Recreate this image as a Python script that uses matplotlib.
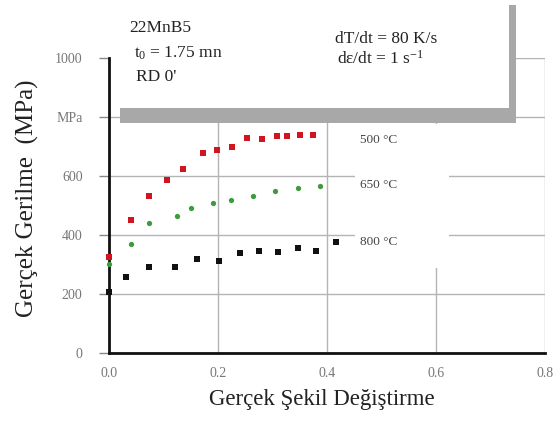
import matplotlib
matplotlib.use("Agg")
import matplotlib.pyplot as plt
from matplotlib.patches import Rectangle

plt.rcParams["font.family"] = ["Liberation Serif", "DejaVu Serif"]
plt.rcParams["mathtext.fontset"] = "custom"
plt.rcParams["mathtext.rm"] = "Liberation Serif"
plt.rcParams["mathtext.it"] = "Liberation Serif:italic"

# === Data ===
x_500 = [0.0, 0.040, 0.074, 0.107, 0.136, 0.173, 0.199, 0.225, 0.254, 0.280, 0.308, 0.327, 0.350, 0.374]
y_500 = [327, 452, 531, 585, 625, 678, 687, 700, 728, 727, 736, 737, 740, 739]

x_650 = [0.0, 0.040, 0.074, 0.124, 0.150, 0.191, 0.224, 0.265, 0.305, 0.347, 0.387]
y_650 = [302, 371, 440, 464, 492, 508, 518, 533, 549, 559, 567]

x_800 = [0.0, 0.032, 0.073, 0.122, 0.161, 0.201, 0.240, 0.276, 0.310, 0.346, 0.380, 0.416]
y_800 = [206, 257, 293, 291, 320, 313, 338, 345, 343, 357, 347, 376]

yticks = [0, 200, 400, 600, 800, 1000]
ytick_labels = ["0", "200", "400", "600", "MPa", "1000"]
xticks = [0.0, 0.2, 0.4, 0.6, 0.8]
xtick_labels = ["0.0", "0.2", "0.4", "0.6", "0.8"]

W, H = 557, 421


def fx(px):
    return px / W


def fy(py):
    return 1 - py / H


fig = plt.figure(figsize=(W / 100, H / 100), dpi=100)
ax = fig.add_axes([fx(109), fy(353), (545 - 109) / W, (353 - 58) / H])

ax.set_xlim(0, 0.8)
ax.set_ylim(0, 1000)
ax.set_xticks(xticks)
ax.set_xticklabels(xtick_labels)
ax.set_yticks(yticks)
ax.set_yticklabels(ytick_labels)
ax.tick_params(axis="x", length=0, pad=10, labelsize=10, labelcolor="#777777")
ax.tick_params(axis="y", length=7, width=1, color="#888888", pad=12, labelsize=10, labelcolor="#777777")
ax.grid(True, color="#b4b4b4", linewidth=1.0)
ax.set_axisbelow(True)

for s in ["top", "right"]:
    ax.spines[s].set_visible(False)
for s in ["left", "bottom"]:
    ax.spines[s].set_linewidth(2.0)
    ax.spines[s].set_color("#111111")

ax.plot(x_500, y_500, "s", color="#d2141e", markersize=4.8, markeredgewidth=0, clip_on=False, zorder=5)
ax.plot(x_650, y_650, "o", color="#3c9c3c", markersize=3.8, markeredgewidth=0, clip_on=False, zorder=5)
ax.plot(x_800, y_800, "s", color="#111111", markersize=4.5, markeredgewidth=0, clip_on=False, zorder=5)

# === Info box with grey edge ===
fig.add_artist(Rectangle((fx(111), fy(108)), (509 - 111) / W, (108 - 4) / H,
                         transform=fig.transFigure, facecolor="white", edgecolor="none", zorder=2))
fig.add_artist(Rectangle((fx(120), fy(123)), (516 - 120) / W, 15 / H,
                         transform=fig.transFigure, facecolor="#a8a8a8", edgecolor="none", zorder=3))
fig.add_artist(Rectangle((fx(509), fy(123)), 7 / W, (123 - 5) / H,
                         transform=fig.transFigure, facecolor="#a8a8a8", edgecolor="none", zorder=3))

# white area behind the temperature labels
fig.add_artist(Rectangle((fx(355), fy(268)), (449 - 355) / W, (268 - 124) / H,
                         transform=fig.transFigure, facecolor="white", edgecolor="none", zorder=2))

txt = dict(fontsize=12.5, color="#222222", va="center", ha="left", zorder=6)
fig.text(fx(129), fy(28), "22MnB5", **txt)
fig.text(fx(134), fy(53), "t$_\\mathrm{0}$ = 1.75 mn", **txt)
fig.text(fx(136), fy(77), "RD 0'", **txt)
fig.text(fx(335), fy(39), "dT/dt = 80 K/s", **txt)
fig.text(fx(337), fy(59), "dε/dt = 1 s$^\\mathrm{-1}$", **txt)

tl = dict(fontsize=9.5, color="#444444", va="center", ha="left", zorder=6)
fig.text(fx(360), fy(140), "500 °C", **tl)
fig.text(fx(360), fy(185), "650 °C", **tl)
fig.text(fx(360), fy(242), "800 °C", **tl)

fig.text(fx(27), fy(198), "Gerçek Gerilme  (MPa)", rotation=90, fontsize=18,
         color="#222222", ha="center", va="center")
fig.text(fx(322), fy(400), "Gerçek Şekil Değiştirme", fontsize=16.5,
         color="#222222", ha="center", va="center")

fig.savefig("out.png", dpi=100)
